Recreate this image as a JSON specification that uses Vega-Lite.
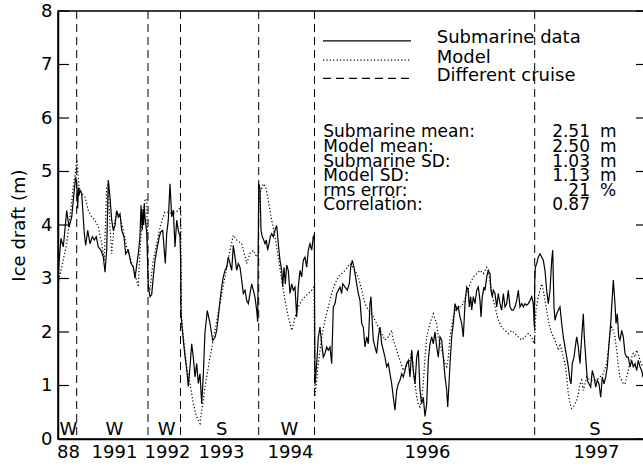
{
  "$schema": "https://vega.github.io/schema/vega-lite/v6.json",
  "autosize": {"type": "none"},
  "padding": {"left": 58, "top": 11, "right": 0, "bottom": 29},
  "width": 589,
  "height": 428,
  "background": "white",
  "config": {
    "view": {"stroke": "black", "strokeWidth": 1.5},
    "font": "DejaVu Sans",
    "axis": {"domainColor": "black", "domainWidth": 1.5, "labelColor": "black", "titleColor": "black", "grid": false, "ticks": false, "labelFont": "DejaVu Sans", "titleFont": "DejaVu Sans", "labelFontSize": 18, "titleFontSize": 18, "titleFontWeight": "normal"},
    "text": {"font": "DejaVu Sans", "fontSize": 18, "color": "black"}
  },
  "datasets": {
    "ice": [
      {"k":"Submarine data","x":0,"y":2.8},{"k":"Submarine data","x":1,"y":3.3},{"k":"Submarine data","x":3,"y":3.75},{"k":"Submarine data","x":5.3,"y":3.59},{"k":"Submarine data","x":8.7,"y":4.27},{"k":"Submarine data","x":11,"y":3.96},{"k":"Submarine data","x":13.7,"y":4.15},{"k":"Submarine data","x":15.5,"y":4.5},{"k":"Submarine data","x":17.7,"y":4.9},{"k":"Submarine data","x":18.7,"y":4.77},{"k":"Submarine data","x":19.7,"y":4.31},{"k":"Submarine data","x":20.5,"y":4.7},{"k":"Submarine data","x":21,"y":4.55},{"k":"Submarine data","x":22,"y":4.65},{"k":"Submarine data","x":23.7,"y":4.59},{"k":"Submarine data","x":26.3,"y":3.84},{"k":"Submarine data","x":27.7,"y":3.62},{"k":"Submarine data","x":29.7,"y":3.9},{"k":"Submarine data","x":32,"y":3.65},{"k":"Submarine data","x":34.3,"y":3.78},{"k":"Submarine data","x":36.3,"y":3.72},{"k":"Submarine data","x":38.3,"y":3.78},{"k":"Submarine data","x":40.3,"y":3.59},{"k":"Submarine data","x":43,"y":3.53},{"k":"Submarine data","x":45.3,"y":3.4},{"k":"Submarine data","x":47,"y":3.12},{"k":"Submarine data","x":48.7,"y":3.53},{"k":"Submarine data","x":50.3,"y":4.84},{"k":"Submarine data","x":52,"y":4.52},{"k":"Submarine data","x":53.7,"y":4.09},{"k":"Submarine data","x":55.3,"y":3.9},{"k":"Submarine data","x":57,"y":3.99},{"k":"Submarine data","x":58.7,"y":4.27},{"k":"Submarine data","x":60.3,"y":4.15},{"k":"Submarine data","x":62,"y":4.21},{"k":"Submarine data","x":63.7,"y":3.9},{"k":"Submarine data","x":66,"y":3.78},{"k":"Submarine data","x":67.7,"y":3.46},{"k":"Submarine data","x":70.3,"y":3.53},{"k":"Submarine data","x":73,"y":3.28},{"k":"Submarine data","x":75.3,"y":3.22},{"k":"Submarine data","x":77,"y":3.0},{"k":"Submarine data","x":78.7,"y":3.25},{"k":"Submarine data","x":80.3,"y":3.46},{"k":"Submarine data","x":82,"y":3.78},{"k":"Submarine data","x":83,"y":4.37},{"k":"Submarine data","x":84.3,"y":3.9},{"k":"Submarine data","x":85,"y":4.3},{"k":"Submarine data","x":85.7,"y":4.0},{"k":"Submarine data","x":86.3,"y":4.4},{"k":"Submarine data","x":87,"y":4.15},{"k":"Submarine data","x":88.7,"y":3.87},{"k":"Submarine data","x":90.3,"y":2.84},{"k":"Submarine data","x":92,"y":2.66},{"k":"Submarine data","x":93.7,"y":2.7},{"k":"Submarine data","x":95.3,"y":3.03},{"k":"Submarine data","x":97,"y":3.34},{"k":"Submarine data","x":99.3,"y":3.59},{"k":"Submarine data","x":101.3,"y":3.78},{"k":"Submarine data","x":102.7,"y":3.87},{"k":"Submarine data","x":104.7,"y":3.9},{"k":"Submarine data","x":106,"y":3.59},{"k":"Submarine data","x":107.3,"y":3.28},{"k":"Submarine data","x":108.7,"y":3.84},{"k":"Submarine data","x":110.3,"y":4.09},{"k":"Submarine data","x":112,"y":4.77},{"k":"Submarine data","x":113.7,"y":4.15},{"k":"Submarine data","x":115.3,"y":4.28},{"k":"Submarine data","x":117,"y":3.59},{"k":"Submarine data","x":118.7,"y":4.09},{"k":"Submarine data","x":120.3,"y":3.9},{"k":"Submarine data","x":122,"y":3.78},{"k":"Submarine data","x":122.7,"y":3.34},{"k":"Submarine data","x":123,"y":2.35},{"k":"Submarine data","x":124,"y":2.1},{"k":"Submarine data","x":125.3,"y":1.85},{"k":"Submarine data","x":127,"y":1.55},{"k":"Submarine data","x":128.7,"y":1.3},{"k":"Submarine data","x":130.3,"y":0.98},{"k":"Submarine data","x":132,"y":1.35},{"k":"Submarine data","x":133.7,"y":1.78},{"k":"Submarine data","x":135.3,"y":1.53},{"k":"Submarine data","x":137,"y":1.16},{"k":"Submarine data","x":138.7,"y":1.41},{"k":"Submarine data","x":140.3,"y":1.04},{"k":"Submarine data","x":142,"y":1.22},{"k":"Submarine data","x":143.7,"y":0.66},{"k":"Submarine data","x":145.3,"y":1.2},{"k":"Submarine data","x":147,"y":2.0},{"k":"Submarine data","x":149.3,"y":2.4},{"k":"Submarine data","x":152,"y":2.16},{"k":"Submarine data","x":154.7,"y":1.84},{"k":"Submarine data","x":157,"y":1.9},{"k":"Submarine data","x":158.7,"y":2.03},{"k":"Submarine data","x":160.3,"y":2.28},{"k":"Submarine data","x":162,"y":2.59},{"k":"Submarine data","x":163.7,"y":2.84},{"k":"Submarine data","x":165.3,"y":3.03},{"k":"Submarine data","x":167,"y":3.15},{"k":"Submarine data","x":168.7,"y":3.21},{"k":"Submarine data","x":170.3,"y":3.4},{"k":"Submarine data","x":172,"y":3.28},{"k":"Submarine data","x":173.7,"y":3.15},{"k":"Submarine data","x":175.3,"y":3.62},{"k":"Submarine data","x":177,"y":3.4},{"k":"Submarine data","x":178.7,"y":3.15},{"k":"Submarine data","x":180.3,"y":3.28},{"k":"Submarine data","x":182,"y":3.21},{"k":"Submarine data","x":183.7,"y":2.97},{"k":"Submarine data","x":185.3,"y":2.72},{"k":"Submarine data","x":187,"y":2.78},{"k":"Submarine data","x":188.7,"y":2.59},{"k":"Submarine data","x":190.3,"y":2.53},{"k":"Submarine data","x":192,"y":2.72},{"k":"Submarine data","x":193.7,"y":2.9},{"k":"Submarine data","x":195.3,"y":2.78},{"k":"Submarine data","x":197,"y":2.65},{"k":"Submarine data","x":198.7,"y":2.4},{"k":"Submarine data","x":199.7,"y":2.19},{"k":"Submarine data","x":200.7,"y":4.77},{"k":"Submarine data","x":202,"y":4.68},{"k":"Submarine data","x":203,"y":3.9},{"k":"Submarine data","x":204.3,"y":3.78},{"k":"Submarine data","x":205.7,"y":3.72},{"k":"Submarine data","x":207,"y":3.65},{"k":"Submarine data","x":208.3,"y":3.72},{"k":"Submarine data","x":209.7,"y":3.53},{"k":"Submarine data","x":211,"y":3.65},{"k":"Submarine data","x":212.3,"y":3.78},{"k":"Submarine data","x":213.7,"y":3.84},{"k":"Submarine data","x":215.3,"y":3.78},{"k":"Submarine data","x":217,"y":3.9},{"k":"Submarine data","x":218.7,"y":3.99},{"k":"Submarine data","x":220.3,"y":3.65},{"k":"Submarine data","x":222,"y":3.34},{"k":"Submarine data","x":223.7,"y":3.15},{"k":"Submarine data","x":224.7,"y":2.84},{"k":"Submarine data","x":226,"y":3.21},{"k":"Submarine data","x":227.3,"y":2.9},{"k":"Submarine data","x":228.7,"y":3.25},{"k":"Submarine data","x":230.3,"y":3.15},{"k":"Submarine data","x":232,"y":2.72},{"k":"Submarine data","x":233.7,"y":2.9},{"k":"Submarine data","x":235.3,"y":2.78},{"k":"Submarine data","x":237,"y":2.84},{"k":"Submarine data","x":238.7,"y":2.28},{"k":"Submarine data","x":240.3,"y":2.84},{"k":"Submarine data","x":242,"y":3.15},{"k":"Submarine data","x":243.7,"y":3.03},{"k":"Submarine data","x":245.3,"y":3.34},{"k":"Submarine data","x":247,"y":3.4},{"k":"Submarine data","x":248.7,"y":3.21},{"k":"Submarine data","x":250.3,"y":3.53},{"k":"Submarine data","x":252,"y":3.65},{"k":"Submarine data","x":253.7,"y":3.53},{"k":"Submarine data","x":255.3,"y":3.78},{"k":"Submarine data","x":256.3,"y":3.81},{"k":"Submarine data","x":257,"y":1.03},{"k":"Submarine data","x":258.7,"y":1.41},{"k":"Submarine data","x":260.3,"y":1.9},{"k":"Submarine data","x":262,"y":2.09},{"k":"Submarine data","x":263.7,"y":1.78},{"k":"Submarine data","x":265.3,"y":1.53},{"k":"Submarine data","x":267,"y":1.6},{"k":"Submarine data","x":268.7,"y":1.72},{"k":"Submarine data","x":270.3,"y":1.66},{"k":"Submarine data","x":272,"y":1.72},{"k":"Submarine data","x":273.7,"y":1.41},{"k":"Submarine data","x":275.3,"y":2.47},{"k":"Submarine data","x":277,"y":2.53},{"k":"Submarine data","x":278.7,"y":2.72},{"k":"Submarine data","x":280.3,"y":2.78},{"k":"Submarine data","x":282,"y":2.84},{"k":"Submarine data","x":283.7,"y":2.72},{"k":"Submarine data","x":284.7,"y":2.9},{"k":"Submarine data","x":287,"y":2.84},{"k":"Submarine data","x":289.3,"y":2.78},{"k":"Submarine data","x":291.3,"y":2.9},{"k":"Submarine data","x":292.7,"y":3.21},{"k":"Submarine data","x":294.3,"y":3.34},{"k":"Submarine data","x":296,"y":3.21},{"k":"Submarine data","x":297,"y":3.09},{"k":"Submarine data","x":298.7,"y":2.9},{"k":"Submarine data","x":300.3,"y":2.72},{"k":"Submarine data","x":302,"y":2.59},{"k":"Submarine data","x":303.7,"y":2.16},{"k":"Submarine data","x":305.3,"y":2.09},{"k":"Submarine data","x":307,"y":1.72},{"k":"Submarine data","x":308.7,"y":1.91},{"k":"Submarine data","x":310.3,"y":1.78},{"k":"Submarine data","x":312,"y":2.53},{"k":"Submarine data","x":313,"y":2.66},{"k":"Submarine data","x":314.3,"y":2.16},{"k":"Submarine data","x":315.3,"y":1.85},{"k":"Submarine data","x":317,"y":1.72},{"k":"Submarine data","x":318.7,"y":1.6},{"k":"Submarine data","x":320.3,"y":1.91},{"k":"Submarine data","x":322,"y":2.09},{"k":"Submarine data","x":323.7,"y":1.78},{"k":"Submarine data","x":325.3,"y":1.66},{"k":"Submarine data","x":327,"y":1.53},{"k":"Submarine data","x":328.7,"y":1.35},{"k":"Submarine data","x":330.3,"y":1.41},{"k":"Submarine data","x":332,"y":1.22},{"k":"Submarine data","x":333.7,"y":1.03},{"k":"Submarine data","x":335.3,"y":0.78},{"k":"Submarine data","x":337,"y":0.54},{"k":"Submarine data","x":338.7,"y":0.91},{"k":"Submarine data","x":340.3,"y":1.03},{"k":"Submarine data","x":342,"y":1.1},{"k":"Submarine data","x":343.7,"y":1.22},{"k":"Submarine data","x":345.3,"y":1.16},{"k":"Submarine data","x":347,"y":1.28},{"k":"Submarine data","x":348.7,"y":1.41},{"k":"Submarine data","x":350.3,"y":1.47},{"k":"Submarine data","x":352,"y":1.16},{"k":"Submarine data","x":353.7,"y":1.66},{"k":"Submarine data","x":355.3,"y":1.28},{"k":"Submarine data","x":357,"y":1.03},{"k":"Submarine data","x":358.7,"y":1.53},{"k":"Submarine data","x":360.3,"y":1.66},{"k":"Submarine data","x":362,"y":0.91},{"k":"Submarine data","x":363.7,"y":0.66},{"k":"Submarine data","x":365.3,"y":0.78},{"k":"Submarine data","x":367,"y":0.42},{"k":"Submarine data","x":368.7,"y":0.66},{"k":"Submarine data","x":370.3,"y":1.47},{"k":"Submarine data","x":372,"y":1.78},{"k":"Submarine data","x":373.7,"y":1.91},{"k":"Submarine data","x":375.3,"y":1.78},{"k":"Submarine data","x":377,"y":2.0},{"k":"Submarine data","x":378.7,"y":1.72},{"k":"Submarine data","x":380.3,"y":1.53},{"k":"Submarine data","x":382,"y":1.91},{"k":"Submarine data","x":383.7,"y":1.85},{"k":"Submarine data","x":385.3,"y":1.53},{"k":"Submarine data","x":387,"y":1.16},{"k":"Submarine data","x":388.7,"y":0.91},{"k":"Submarine data","x":389.7,"y":0.6},{"k":"Submarine data","x":391,"y":1.03},{"k":"Submarine data","x":392,"y":1.41},{"k":"Submarine data","x":393.7,"y":1.91},{"k":"Submarine data","x":395.3,"y":2.16},{"k":"Submarine data","x":397,"y":2.53},{"k":"Submarine data","x":398.7,"y":2.41},{"k":"Submarine data","x":400.3,"y":2.47},{"k":"Submarine data","x":402,"y":2.28},{"k":"Submarine data","x":403.7,"y":2.16},{"k":"Submarine data","x":405.3,"y":1.91},{"k":"Submarine data","x":407,"y":2.53},{"k":"Submarine data","x":408.7,"y":2.84},{"k":"Submarine data","x":410.3,"y":2.78},{"k":"Submarine data","x":411.3,"y":2.47},{"k":"Submarine data","x":412.7,"y":2.66},{"k":"Submarine data","x":413.7,"y":2.41},{"k":"Submarine data","x":415.3,"y":2.66},{"k":"Submarine data","x":417,"y":2.53},{"k":"Submarine data","x":418.7,"y":2.78},{"k":"Submarine data","x":420.3,"y":2.84},{"k":"Submarine data","x":422,"y":2.59},{"k":"Submarine data","x":423,"y":2.28},{"k":"Submarine data","x":424.3,"y":2.66},{"k":"Submarine data","x":426,"y":2.84},{"k":"Submarine data","x":427,"y":2.78},{"k":"Submarine data","x":428.7,"y":3.03},{"k":"Submarine data","x":430.3,"y":3.15},{"k":"Submarine data","x":432,"y":3.09},{"k":"Submarine data","x":433,"y":2.78},{"k":"Submarine data","x":434.3,"y":2.66},{"k":"Submarine data","x":435.3,"y":2.78},{"k":"Submarine data","x":437,"y":2.72},{"k":"Submarine data","x":438.7,"y":2.47},{"k":"Submarine data","x":440.3,"y":2.72},{"k":"Submarine data","x":442,"y":2.53},{"k":"Submarine data","x":443.7,"y":2.41},{"k":"Submarine data","x":445.3,"y":2.72},{"k":"Submarine data","x":447,"y":2.47},{"k":"Submarine data","x":448.7,"y":2.53},{"k":"Submarine data","x":450.3,"y":2.78},{"k":"Submarine data","x":452,"y":2.47},{"k":"Submarine data","x":453.7,"y":2.41},{"k":"Submarine data","x":455.3,"y":2.41},{"k":"Submarine data","x":457,"y":2.47},{"k":"Submarine data","x":458.7,"y":2.59},{"k":"Submarine data","x":460.3,"y":2.78},{"k":"Submarine data","x":462,"y":2.47},{"k":"Submarine data","x":463.7,"y":2.53},{"k":"Submarine data","x":465.3,"y":2.47},{"k":"Submarine data","x":467,"y":2.53},{"k":"Submarine data","x":468.7,"y":2.5},{"k":"Submarine data","x":470.3,"y":2.53},{"k":"Submarine data","x":472,"y":2.59},{"k":"Submarine data","x":473.7,"y":2.66},{"k":"Submarine data","x":475.3,"y":2.53},{"k":"Submarine data","x":476.3,"y":2.09},{"k":"Submarine data","x":476.7,"y":2.9},{"k":"Submarine data","x":477.3,"y":3.21},{"k":"Submarine data","x":478.7,"y":3.28},{"k":"Submarine data","x":480.3,"y":3.4},{"k":"Submarine data","x":482,"y":3.46},{"k":"Submarine data","x":483.7,"y":3.4},{"k":"Submarine data","x":485.3,"y":3.34},{"k":"Submarine data","x":487,"y":3.15},{"k":"Submarine data","x":488.7,"y":2.78},{"k":"Submarine data","x":490.3,"y":2.53},{"k":"Submarine data","x":492,"y":2.78},{"k":"Submarine data","x":493.7,"y":3.34},{"k":"Submarine data","x":494.7,"y":3.53},{"k":"Submarine data","x":496,"y":2.47},{"k":"Submarine data","x":497,"y":2.22},{"k":"Submarine data","x":498.7,"y":2.34},{"k":"Submarine data","x":500.3,"y":2.41},{"k":"Submarine data","x":502,"y":2.47},{"k":"Submarine data","x":503.7,"y":2.16},{"k":"Submarine data","x":505.3,"y":1.91},{"k":"Submarine data","x":507,"y":1.72},{"k":"Submarine data","x":508.7,"y":1.53},{"k":"Submarine data","x":510.3,"y":1.35},{"k":"Submarine data","x":512,"y":1.1},{"k":"Submarine data","x":513,"y":1.03},{"k":"Submarine data","x":514.3,"y":1.41},{"k":"Submarine data","x":516,"y":1.53},{"k":"Submarine data","x":517.7,"y":1.78},{"k":"Submarine data","x":518.7,"y":1.91},{"k":"Submarine data","x":520.3,"y":1.72},{"k":"Submarine data","x":522,"y":1.41},{"k":"Submarine data","x":523.7,"y":1.91},{"k":"Submarine data","x":525.3,"y":2.34},{"k":"Submarine data","x":526.3,"y":1.91},{"k":"Submarine data","x":527.7,"y":1.53},{"k":"Submarine data","x":529.3,"y":1.1},{"k":"Submarine data","x":531,"y":1.03},{"k":"Submarine data","x":532.7,"y":0.97},{"k":"Submarine data","x":534.3,"y":1.28},{"k":"Submarine data","x":536,"y":1.16},{"k":"Submarine data","x":537.7,"y":0.97},{"k":"Submarine data","x":539.3,"y":1.1},{"k":"Submarine data","x":541,"y":1.03},{"k":"Submarine data","x":542.7,"y":0.78},{"k":"Submarine data","x":544.3,"y":1.16},{"k":"Submarine data","x":546,"y":1.03},{"k":"Submarine data","x":547.7,"y":1.16},{"k":"Submarine data","x":549.3,"y":1.35},{"k":"Submarine data","x":551,"y":1.78},{"k":"Submarine data","x":552.7,"y":2.16},{"k":"Submarine data","x":554.3,"y":2.66},{"k":"Submarine data","x":555.3,"y":2.97},{"k":"Submarine data","x":557,"y":2.53},{"k":"Submarine data","x":558,"y":2.16},{"k":"Submarine data","x":559.3,"y":2.34},{"k":"Submarine data","x":560.7,"y":1.91},{"k":"Submarine data","x":562,"y":1.85},{"k":"Submarine data","x":563.7,"y":2.03},{"k":"Submarine data","x":565.3,"y":1.91},{"k":"Submarine data","x":567,"y":1.6},{"k":"Submarine data","x":568.7,"y":1.53},{"k":"Submarine data","x":570.3,"y":1.53},{"k":"Submarine data","x":572,"y":1.35},{"k":"Submarine data","x":573.7,"y":1.47},{"k":"Submarine data","x":575.3,"y":1.35},{"k":"Submarine data","x":577,"y":1.41},{"k":"Submarine data","x":578.7,"y":1.28},{"k":"Submarine data","x":580.3,"y":1.47},{"k":"Submarine data","x":582,"y":1.35},{"k":"Submarine data","x":583.7,"y":1.28},{"k":"Submarine data","x":585,"y":1.16},{"k":"Submarine data","x":589,"y":1.2},
      {"k":"Model","x":0,"y":2.9},{"k":"Model","x":3.7,"y":3.21},{"k":"Model","x":8.7,"y":3.65},{"k":"Model","x":12,"y":4.15},{"k":"Model","x":15.3,"y":4.71},{"k":"Model","x":17.7,"y":5.02},{"k":"Model","x":19,"y":5.21},{"k":"Model","x":21,"y":4.71},{"k":"Model","x":23.7,"y":4.59},{"k":"Model","x":27,"y":4.52},{"k":"Model","x":30.3,"y":4.27},{"k":"Model","x":33.7,"y":4.15},{"k":"Model","x":37,"y":4.09},{"k":"Model","x":40.3,"y":3.96},{"k":"Model","x":43.7,"y":3.65},{"k":"Model","x":46.3,"y":3.34},{"k":"Model","x":48.7,"y":4.71},{"k":"Model","x":50.3,"y":4.77},{"k":"Model","x":52,"y":3.96},{"k":"Model","x":53.7,"y":3.46},{"k":"Model","x":56.3,"y":4.02},{"k":"Model","x":58.7,"y":4.24},{"k":"Model","x":62,"y":4.15},{"k":"Model","x":65.3,"y":3.9},{"k":"Model","x":68.7,"y":3.59},{"k":"Model","x":72,"y":3.4},{"k":"Model","x":77,"y":3.09},{"k":"Model","x":80.3,"y":2.84},{"k":"Model","x":82,"y":3.53},{"k":"Model","x":84.3,"y":4.15},{"k":"Model","x":87,"y":4.46},{"k":"Model","x":88.7,"y":4.49},{"k":"Model","x":90.3,"y":2.9},{"k":"Model","x":92,"y":2.78},{"k":"Model","x":93.7,"y":3.1},{"k":"Model","x":95.3,"y":3.34},{"k":"Model","x":98.7,"y":3.65},{"k":"Model","x":102,"y":3.96},{"k":"Model","x":105.3,"y":4.15},{"k":"Model","x":107,"y":4.24},{"k":"Model","x":110.3,"y":4.24},{"k":"Model","x":113.7,"y":4.21},{"k":"Model","x":117,"y":4.24},{"k":"Model","x":120.3,"y":4.27},{"k":"Model","x":122,"y":4.34},{"k":"Model","x":122.7,"y":4.3},{"k":"Model","x":123.5,"y":2.3},{"k":"Model","x":125.3,"y":1.91},{"k":"Model","x":128.7,"y":1.35},{"k":"Model","x":132,"y":1.04},{"k":"Model","x":135.3,"y":0.66},{"k":"Model","x":138.7,"y":0.41},{"k":"Model","x":142,"y":0.29},{"k":"Model","x":147,"y":0.97},{"k":"Model","x":152,"y":1.53},{"k":"Model","x":157,"y":2.03},{"k":"Model","x":162,"y":2.53},{"k":"Model","x":167,"y":3.03},{"k":"Model","x":172,"y":3.53},{"k":"Model","x":175.3,"y":3.81},{"k":"Model","x":178.7,"y":3.72},{"k":"Model","x":183.7,"y":3.65},{"k":"Model","x":188.7,"y":3.28},{"k":"Model","x":192,"y":3.47},{"k":"Model","x":195.3,"y":3.53},{"k":"Model","x":198.7,"y":3.4},{"k":"Model","x":200.3,"y":3.47},{"k":"Model","x":200.7,"y":4.3},{"k":"Model","x":202,"y":4.59},{"k":"Model","x":205.3,"y":4.77},{"k":"Model","x":207.7,"y":4.71},{"k":"Model","x":210.3,"y":4.46},{"k":"Model","x":213.7,"y":4.09},{"k":"Model","x":217,"y":3.78},{"k":"Model","x":220.3,"y":3.4},{"k":"Model","x":223.7,"y":2.97},{"k":"Model","x":227,"y":2.59},{"k":"Model","x":230.3,"y":2.28},{"k":"Model","x":233.7,"y":2.03},{"k":"Model","x":237,"y":2.28},{"k":"Model","x":240.3,"y":2.47},{"k":"Model","x":243.7,"y":2.59},{"k":"Model","x":247,"y":2.66},{"k":"Model","x":250.3,"y":2.72},{"k":"Model","x":253.7,"y":2.78},{"k":"Model","x":256,"y":2.84},{"k":"Model","x":257,"y":0.79},{"k":"Model","x":260.3,"y":1.41},{"k":"Model","x":263.7,"y":1.91},{"k":"Model","x":267,"y":2.22},{"k":"Model","x":270.3,"y":2.47},{"k":"Model","x":273.7,"y":2.72},{"k":"Model","x":277,"y":2.9},{"k":"Model","x":280.3,"y":3.03},{"k":"Model","x":283.7,"y":3.09},{"k":"Model","x":287,"y":3.15},{"k":"Model","x":292,"y":3.28},{"k":"Model","x":297,"y":3.15},{"k":"Model","x":300.3,"y":3.03},{"k":"Model","x":303.7,"y":2.78},{"k":"Model","x":307,"y":2.53},{"k":"Model","x":310.3,"y":2.41},{"k":"Model","x":313.7,"y":2.34},{"k":"Model","x":317,"y":2.22},{"k":"Model","x":320.3,"y":2.09},{"k":"Model","x":323.7,"y":1.97},{"k":"Model","x":327,"y":1.85},{"k":"Model","x":330.3,"y":1.91},{"k":"Model","x":333.7,"y":2.03},{"k":"Model","x":335.3,"y":1.85},{"k":"Model","x":338.7,"y":1.66},{"k":"Model","x":342,"y":1.47},{"k":"Model","x":345.3,"y":1.28},{"k":"Model","x":348.7,"y":1.41},{"k":"Model","x":352,"y":1.47},{"k":"Model","x":353.7,"y":1.66},{"k":"Model","x":355.3,"y":1.28},{"k":"Model","x":357,"y":1.03},{"k":"Model","x":358.7,"y":0.78},{"k":"Model","x":360.3,"y":0.66},{"k":"Model","x":362,"y":0.6},{"k":"Model","x":363.7,"y":0.78},{"k":"Model","x":365.3,"y":1.03},{"k":"Model","x":367,"y":1.53},{"k":"Model","x":368.7,"y":1.91},{"k":"Model","x":372,"y":2.16},{"k":"Model","x":375.3,"y":2.34},{"k":"Model","x":378.7,"y":2.16},{"k":"Model","x":380.3,"y":1.91},{"k":"Model","x":383.7,"y":1.66},{"k":"Model","x":387,"y":1.41},{"k":"Model","x":388.7,"y":1.35},{"k":"Model","x":390.3,"y":1.53},{"k":"Model","x":392,"y":1.91},{"k":"Model","x":395.3,"y":2.28},{"k":"Model","x":398.7,"y":2.47},{"k":"Model","x":402,"y":2.47},{"k":"Model","x":405.3,"y":2.53},{"k":"Model","x":408.7,"y":2.72},{"k":"Model","x":412,"y":2.9},{"k":"Model","x":415.3,"y":3.03},{"k":"Model","x":418.7,"y":3.09},{"k":"Model","x":422,"y":3.15},{"k":"Model","x":425.3,"y":3.09},{"k":"Model","x":428.7,"y":3.21},{"k":"Model","x":430.3,"y":3.15},{"k":"Model","x":433.7,"y":2.72},{"k":"Model","x":437,"y":2.47},{"k":"Model","x":440.3,"y":2.22},{"k":"Model","x":443.7,"y":2.09},{"k":"Model","x":447,"y":2.03},{"k":"Model","x":450.3,"y":1.97},{"k":"Model","x":453.7,"y":2.03},{"k":"Model","x":457,"y":1.97},{"k":"Model","x":460.3,"y":1.91},{"k":"Model","x":463.7,"y":1.85},{"k":"Model","x":467,"y":1.91},{"k":"Model","x":470.3,"y":1.97},{"k":"Model","x":473.7,"y":1.91},{"k":"Model","x":476,"y":1.78},{"k":"Model","x":476.7,"y":1.91},{"k":"Model","x":478,"y":2.41},{"k":"Model","x":480.3,"y":2.66},{"k":"Model","x":482,"y":2.78},{"k":"Model","x":483.7,"y":2.9},{"k":"Model","x":485.3,"y":2.78},{"k":"Model","x":487,"y":2.59},{"k":"Model","x":488.7,"y":2.41},{"k":"Model","x":490.3,"y":2.22},{"k":"Model","x":492,"y":2.09},{"k":"Model","x":493.7,"y":1.97},{"k":"Model","x":495.3,"y":1.91},{"k":"Model","x":497,"y":1.85},{"k":"Model","x":500.3,"y":1.66},{"k":"Model","x":502,"y":1.78},{"k":"Model","x":503.7,"y":1.66},{"k":"Model","x":505.3,"y":1.53},{"k":"Model","x":507,"y":1.41},{"k":"Model","x":508.7,"y":1.16},{"k":"Model","x":510.3,"y":0.85},{"k":"Model","x":512,"y":0.66},{"k":"Model","x":513.7,"y":0.57},{"k":"Model","x":515.3,"y":0.6},{"k":"Model","x":517,"y":0.66},{"k":"Model","x":518.7,"y":0.72},{"k":"Model","x":520.3,"y":0.85},{"k":"Model","x":522,"y":1.03},{"k":"Model","x":523.7,"y":1.1},{"k":"Model","x":525.3,"y":0.91},{"k":"Model","x":527,"y":1.03},{"k":"Model","x":528.7,"y":1.16},{"k":"Model","x":532,"y":1.1},{"k":"Model","x":538.7,"y":1.1},{"k":"Model","x":542,"y":1.16},{"k":"Model","x":545.3,"y":1.22},{"k":"Model","x":548.7,"y":1.41},{"k":"Model","x":550.3,"y":1.66},{"k":"Model","x":552,"y":1.97},{"k":"Model","x":553.7,"y":2.09},{"k":"Model","x":555.3,"y":2.03},{"k":"Model","x":557,"y":1.91},{"k":"Model","x":558.7,"y":1.66},{"k":"Model","x":560.3,"y":1.35},{"k":"Model","x":562,"y":1.16},{"k":"Model","x":563.7,"y":1.1},{"k":"Model","x":565.3,"y":1.03},{"k":"Model","x":567,"y":1.03},{"k":"Model","x":568.7,"y":1.16},{"k":"Model","x":570.3,"y":1.28},{"k":"Model","x":572,"y":1.41},{"k":"Model","x":573.7,"y":1.53},{"k":"Model","x":575.3,"y":1.6},{"k":"Model","x":577,"y":1.53},{"k":"Model","x":578.7,"y":1.66},{"k":"Model","x":580.3,"y":1.6},{"k":"Model","x":582,"y":1.47},{"k":"Model","x":584.7,"y":1.35},{"k":"Model","x":589,"y":1.3}
    ],
    "breaks": [
      {"k":"Different cruise","x":18.7},{"k":"Different cruise","x":90},{"k":"Different cruise","x":122.5},{"k":"Different cruise","x":200.7},{"k":"Different cruise","x":256.5},{"k":"Different cruise","x":476.7}
    ],
    "ticks": [{"t":0},{"t":1},{"t":2},{"t":3},{"t":4},{"t":5},{"t":6},{"t":7},{"t":8}],
    "seasons": [
      {"s":"W","x":10.3},{"s":"W","x":56.3},{"s":"W","x":108.7},{"s":"S","x":163.7},{"s":"W","x":231.3},{"s":"S","x":369.3},{"s":"S","x":537}
    ],
    "legend": [
      {"k":"Submarine data","x1":265,"x2":353,"ly":7.44,"tx":378.7,"ty":7.4},
      {"k":"Model","x1":265,"x2":353,"ly":7.08,"tx":378.7,"ty":7.03},
      {"k":"Different cruise","x1":265,"x2":353,"ly":6.74,"tx":378.7,"ty":6.69}
    ],
    "stats": [
      {"label":"Submarine mean:","num":"2.51","unit":"m","y":5.637},
      {"label":"Model mean:","num":"2.50","unit":"m","y":5.366},
      {"label":"Submarine SD:","num":"1.03","unit":"m","y":5.093},
      {"label":"Model SD:","num":"1.13","unit":"m","y":4.821},
      {"label":"rms error:","num":"21","unit":"%","y":4.548},
      {"label":"Correlation:","num":"0.87","unit":"","y":4.275}
    ]
  },
  "layer": [
    {
      "data": {"name": "breaks"},
      "mark": {"type": "rule", "stroke": "black", "strokeWidth": 1},
      "encoding": {
        "x": {"field": "x", "type": "quantitative", "scale": {"domain": [0, 589], "nice": false, "zero": false},
          "axis": {"values": [10, 56, 109, 163, 232, 369, 538], "labelExpr": "datum.value == 10 ? '88' : datum.value == 56 ? '1991' : datum.value == 109 ? '1992' : datum.value == 163 ? '1993' : datum.value == 232 ? '1994' : datum.value == 369 ? '1996' : '1997'", "title": null, "labelPadding": 4, "labelFlush": false, "labelOverlap": false}},
        "strokeDash": {"field": "k", "type": "nominal", "scale": {"domain": ["Submarine data", "Model", "Different cruise"], "range": [[1, 0], [1.2, 2.2], [8, 5]]}, "legend": null}
      }
    },
    {
      "data": {"name": "ice"},
      "mark": {"type": "line", "stroke": "black", "strokeWidth": 1.2, "clip": true},
      "encoding": {
        "x": {"field": "x", "type": "quantitative"},
        "y": {"field": "y", "type": "quantitative", "scale": {"domain": [0, 8], "nice": false},
          "axis": {"values": [0, 1, 2, 3, 4, 5, 6, 7, 8], "title": "Ice draft (m)", "labelPadding": 6, "titlePadding": 12}},
        "strokeDash": {"field": "k", "type": "nominal", "legend": null},
        "detail": {"field": "k"}
      }
    },
    {
      "data": {"name": "ticks"},
      "mark": {"type": "rule", "stroke": "black", "strokeWidth": 1.2},
      "encoding": {"y": {"field": "t", "type": "quantitative"}, "x": {"datum": 0}, "x2": {"datum": 11}}
    },
    {
      "data": {"name": "ticks"},
      "mark": {"type": "rule", "stroke": "black", "strokeWidth": 1.2},
      "encoding": {"y": {"field": "t", "type": "quantitative"}, "x": {"datum": 578}, "x2": {"datum": 589}}
    },
    {
      "data": {"name": "seasons"},
      "mark": {"type": "text", "align": "center", "baseline": "alphabetic"},
      "encoding": {"x": {"field": "x", "type": "quantitative"}, "y": {"datum": 0.07}, "text": {"field": "s"}}
    },
    {
      "data": {"name": "legend"},
      "mark": {"type": "rule", "stroke": "black", "strokeWidth": 1.2},
      "encoding": {"x": {"field": "x1", "type": "quantitative"}, "x2": {"field": "x2"}, "y": {"field": "ly", "type": "quantitative"},
        "strokeDash": {"field": "k", "type": "nominal", "legend": null}}
    },
    {
      "data": {"name": "legend"},
      "mark": {"type": "text", "align": "left", "baseline": "alphabetic"},
      "encoding": {"x": {"field": "tx", "type": "quantitative"}, "y": {"field": "ty", "type": "quantitative"}, "text": {"field": "k"}}
    },
    {
      "data": {"name": "stats"},
      "mark": {"type": "text", "align": "left", "baseline": "alphabetic", "fontSize": 17},
      "encoding": {"x": {"datum": 265.3}, "y": {"field": "y", "type": "quantitative"}, "text": {"field": "label"}}
    },
    {
      "data": {"name": "stats"},
      "mark": {"type": "text", "align": "right", "baseline": "alphabetic", "fontSize": 17},
      "encoding": {"x": {"datum": 532}, "y": {"field": "y", "type": "quantitative"}, "text": {"field": "num"}}
    },
    {
      "data": {"name": "stats"},
      "mark": {"type": "text", "align": "left", "baseline": "alphabetic", "fontSize": 17},
      "encoding": {"x": {"datum": 542}, "y": {"field": "y", "type": "quantitative"}, "text": {"field": "unit"}}
    }
  ]
}
